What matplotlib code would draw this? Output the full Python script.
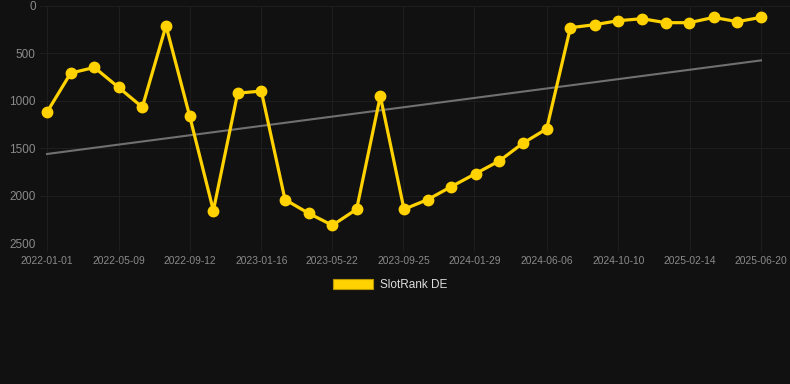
import matplotlib
matplotlib.use("Agg")
import matplotlib.pyplot as plt
import matplotlib.dates as mdates
from matplotlib.patches import Patch
import numpy as np
import datetime as dt

dates = ["2022-01-01", "2022-02-12", "2022-03-26", "2022-05-08", "2022-06-19",
         "2022-07-31", "2022-09-11", "2022-10-23", "2022-12-05", "2023-01-16",
         "2023-02-27", "2023-04-10", "2023-05-22", "2023-07-04", "2023-08-15",
         "2023-09-26", "2023-11-07", "2023-12-19", "2024-01-31", "2024-03-13",
         "2024-04-24", "2024-06-05", "2024-07-17", "2024-08-29", "2024-10-10",
         "2024-11-21", "2025-01-02", "2025-02-13", "2025-03-28", "2025-05-09",
         "2025-06-20"]
rank = [1120, 708, 648, 859, 1067, 208, 1162, 2158, 919, 898,
        2042, 2187, 2313, 2144, 951, 2144, 2042, 1905, 1768, 1634,
        1447, 1296, 229, 197, 155, 134, 176, 176, 120, 165,
        120]
tick_labels = ["2022-01-01", "2022-05-09", "2022-09-12", "2023-01-16", "2023-05-22",
               "2023-09-25", "2024-01-29", "2024-06-06", "2024-10-10", "2025-02-14",
               "2025-06-20"]
y_ticks = [0, 500, 1000, 1500, 2000, 2500]
series_name = "SlotRank DE"

BG = "#111111"
GRID = "#1e1e1e"
GOLD = "#FFD200"

plt.rcParams['font.family'] = ['Liberation Sans', 'DejaVu Sans']

W, H = 790, 384
fig = plt.figure(figsize=(W / 100, H / 100), dpi=100, facecolor=BG)
L, R, T, B = 40, 790, 6, 243
ax = fig.add_axes([L / W, 1 - B / H, (R - L) / W, (B - T) / H], facecolor=BG)

x = [mdates.date2num(dt.date.fromisoformat(d)) for d in dates]
xt = [mdates.date2num(dt.date.fromisoformat(d)) for d in tick_labels]

# trend line (linear regression)
xa = np.array(x)
coef = np.polyfit(xa - xa[0], np.array(rank, dtype=float), 1)
trend = np.polyval(coef, xa - xa[0])
ax.plot(x, trend, color="#707070", lw=1.5, zorder=2)

ax.plot(x, rank, color=GOLD, lw=2.3, marker='o', markersize=7.5, zorder=3)

span = x[-1] - x[0]
px_per_day = 714 / span
ax.set_xlim(x[0] - 7 / px_per_day, x[-1] + 29 / px_per_day)
ax.set_ylim(2500, 0)

ax.set_xticks(xt)
ax.set_xticklabels(tick_labels)
ax.set_yticks(y_ticks)
ax.set_yticklabels([str(v) for v in y_ticks])

ax.grid(True, color=GRID, lw=0.8)
ax.tick_params(axis='x', colors=GRID, length=6, width=0.8, pad=3, labelsize=7.4, labelcolor="#8a8a8a")
ax.tick_params(axis='y', length=0, pad=3, labelsize=8.5, labelcolor="#8a8a8a")
for s in ax.spines.values():
    s.set_visible(False)

handle = Patch(facecolor=GOLD, edgecolor="#b89600", lw=0.8)
leg = fig.legend([handle], [series_name], loc='center',
                 bbox_to_anchor=(390 / W, 1 - 285 / H), frameon=False,
                 fontsize=8.5, handlelength=3.4, handleheight=1.0,
                 handletextpad=0.6, labelcolor="#dddddd")

fig.savefig("out.png", dpi=100, facecolor=BG)
